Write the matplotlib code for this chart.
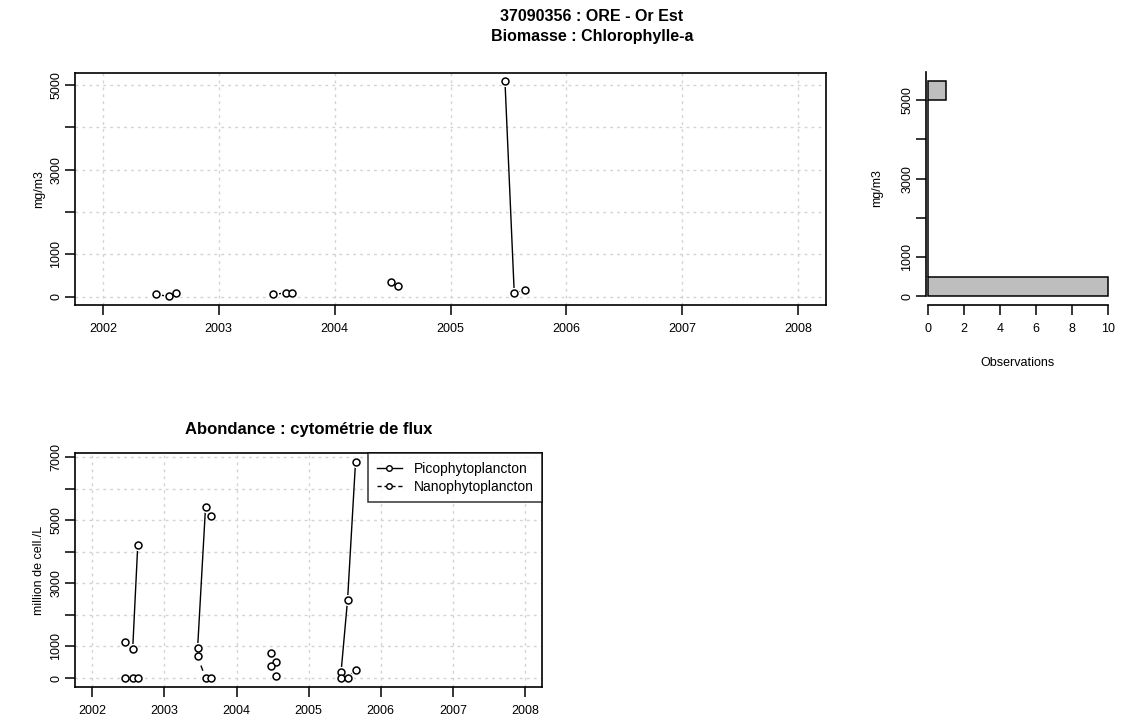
import numpy as np
import matplotlib
matplotlib.use("Agg")
import matplotlib.pyplot as plt
from matplotlib.lines import Line2D

plt.rcParams['font.family'] = ['Liberation Sans', 'DejaVu Sans']

# ---- data ----
title_lines = ["37090356 : ORE - Or Est", "Biomasse : Chlorophylle-a"]
chl_dates = [2002.46, 2002.57, 2002.63, 2003.47, 2003.58, 2003.63,
             2004.49, 2004.55, 2005.47, 2005.55, 2005.64]
chl_values = [56, 10, 94, 56, 94, 94, 344, 258, 5091, 87, 157]

cyto_title = "Abondance : cytométrie de flux"
cyto_dates = [2002.46, 2002.56, 2002.63, 2003.46, 2003.57, 2003.64,
              2004.48, 2004.55, 2005.45, 2005.54, 2005.65]
pico = [1130, 920, 4200, 940, 5416, 5130, 793, 495, 200, 2486, 6845]
nano = [10, 10, 10, 686, 0, 0, 390, 60, 0, 0, 254]
series_names = ["Picophytoplancton", "Nanophytoplancton"]

years = [2002, 2003, 2004, 2005, 2006, 2007, 2008]
hist_bin_width = 500

W, H = 1124, 724
fig = plt.figure(figsize=(W / 100, H / 100), dpi=100)

TICK_FS = 9


def frac(l, t, r, b):
    return [l / W, 1 - b / H, (r - l) / W, (b - t) / H]


def rlim(lo, hi):
    d = (hi - lo) * 0.04
    return lo - d, hi + d


def yticklabels(ticks, show):
    return [str(t) if t in show else "" for t in ticks]


def draw_series(ax, dates, vals, ls):
    dates = np.asarray(dates, float)
    vals = np.asarray(vals, float)
    yrs = np.floor(dates)
    for y in np.unique(yrs):
        m = yrs == y
        ax.plot(dates[m], vals[m], color='black', lw=1.0, ls=ls, zorder=3)
    ax.plot(dates, vals, ls='none', marker='o', ms=7, mfc='white', mec='white', zorder=4)
    ax.plot(dates, vals, ls='none', marker='o', ms=5, mfc='white', mec='black', mew=1.1, zorder=5)


def style_axes(ax):
    for s in ax.spines.values():
        s.set_linewidth(1.2)
    ax.tick_params(axis='both', direction='out', length=7, width=1.1, labelsize=TICK_FS)
    ax.tick_params(axis='x', pad=6)
    ax.tick_params(axis='y', pad=2)
    for lab in ax.get_yticklabels():
        lab.set_rotation(90)
        lab.set_va('center')


# ---- top chart ----
ax1 = fig.add_axes(frac(75, 72.7, 826, 305))
ax1.set_xlim(*rlim(2002, 2008))
ax1.set_ylim(*rlim(min(chl_values), max(chl_values)))
ax1.set_xticks(years)
ax1.set_xticklabels([str(y) for y in years])
yt1 = list(range(0, 6000, 1000))
ax1.set_yticks(yt1)
ax1.set_yticklabels(yticklabels(yt1, {0, 1000, 3000, 5000}))
ax1.grid(True, color='#d3d3d3', ls=(0, (2, 3)), lw=1.0, zorder=0)
draw_series(ax1, chl_dates, chl_values, '-')
ax1.set_ylabel("mg/m3", fontsize=TICK_FS, labelpad=4)
style_axes(ax1)

fig.text(592 / W, 1 - 16.5 / H, title_lines[0], ha='center', va='center',
         fontsize=11.5, fontweight='bold')
fig.text(592 / W, 1 - 36.5 / H, title_lines[1], ha='center', va='center',
         fontsize=11.5, fontweight='bold')

# ---- histogram ----
ax2 = fig.add_axes(frac(920.5, 72, 1114.9, 305))
bins = np.arange(0, max(chl_values) + hist_bin_width, hist_bin_width)
counts, edges = np.histogram(chl_values, bins=bins)
ax2.barh(edges[:-1], counts, height=hist_bin_width, align='edge',
         color='#bebebe', edgecolor='black', lw=1.1, zorder=3)
ax2.set_xlim(*rlim(0, counts.max()))
ax2.set_ylim(*rlim(0, edges[-1]))
ax2.spines['top'].set_visible(False)
ax2.spines['right'].set_visible(False)
ax2.spines['left'].set_position(('data', -0.1))
ax2.spines['left'].set_bounds(0, ax2.get_ylim()[1])
ax2.spines['bottom'].set_bounds(0, 10)
ax2.set_xticks(range(0, 11, 2))
yt2 = list(range(0, 6000, 1000))
ax2.set_yticks(yt2)
ax2.set_yticklabels(yticklabels(yt2, {0, 1000, 3000, 5000}))
ax2.set_xlabel("Observations", fontsize=TICK_FS, labelpad=16)
ax2.set_ylabel("mg/m3", fontsize=TICK_FS, labelpad=13)
style_axes(ax2)

# ---- bottom chart ----
ax3 = fig.add_axes(frac(75, 453.3, 542.3, 686.7))
ax3.set_xlim(*rlim(2002, 2008))
allv = pico + nano
ax3.set_ylim(*rlim(min(allv), max(allv)))
ax3.set_xticks(years)
ax3.set_xticklabels([str(y) for y in years])
yt3 = list(range(0, 8000, 1000))
ax3.set_yticks(yt3)
ax3.set_yticklabels(yticklabels(yt3, {0, 1000, 3000, 5000, 7000}))
ax3.grid(True, color='#d3d3d3', ls=(0, (2, 3)), lw=1.0, zorder=0)
draw_series(ax3, cyto_dates, pico, '-')
draw_series(ax3, cyto_dates, nano, (0, (4, 3)))
ax3.set_ylabel("million de cell./L", fontsize=TICK_FS, labelpad=4)
ax3.set_title(cyto_title, fontsize=12, fontweight='bold', pad=14)
style_axes(ax3)

handles = [
    Line2D([], [], color='black', lw=1.0, ls='-', marker='o', ms=4, mfc='white', mec='black'),
    Line2D([], [], color='black', lw=1.0, ls=(0, (3, 2)), marker='o', ms=4, mfc='white', mec='black'),
]
leg = ax3.legend(handles, series_names, loc='upper right', borderaxespad=0,
                 fontsize=10, frameon=True, fancybox=False, handlelength=1.8,
                 handletextpad=0.9, borderpad=0.6, labelspacing=0.3)
leg.get_frame().set_edgecolor('black')
leg.get_frame().set_linewidth(1.1)
leg.set_zorder(10)

fig.savefig("out.png", dpi=100)
